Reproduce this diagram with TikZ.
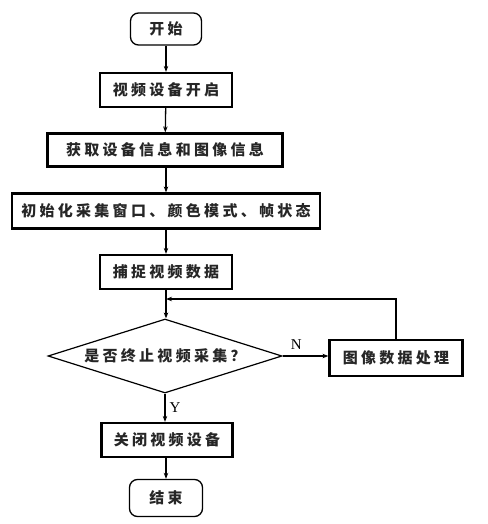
\documentclass[tikz,border=0pt]{standalone}
\usepackage{fontspec}
\newfontfamily\cjk[LetterSpace=22]{Noto Sans CJK SC}
\setmainfont{Liberation Serif}
\usetikzlibrary{shapes.geometric,arrows.meta}
\begin{document}
\begin{tikzpicture}[x=1pt,y=-1pt,
  base/.style={font=\fontsize{15}{17}\cjk\bfseries, text=black!85, inner sep=0pt},
  proc/.style={base, draw, line width=2.2pt, minimum height=34pt},
  term/.style={base, draw, line width=1.3pt, rounded corners=8pt, minimum height=32pt},
  dec/.style={base, draw, line width=1.2pt, diamond, aspect=3.2, inner sep=0pt, minimum width=234pt, minimum height=74pt},
  arr/.style={line width=1.3pt, -{Stealth[length=6pt,width=4.5pt]}},
  lbl/.style={font=\fontsize{15}{17}\selectfont, inner sep=0pt}]
\useasboundingbox (0,0) rectangle (487,524);
\node[term, minimum width=71pt] (start) at (166,29) {开始};
\node[proc, minimum width=132pt] (b1) at (166,90) {视频设备开启};
\node[proc, minimum width=235pt, minimum height=33pt] (b2) at (165,150) {获取设备信息和图像信息};
\node[proc, minimum width=308pt, minimum height=35pt] (b3) at (166,211) {初始化采集窗口、颜色模式、帧状态};
\node[proc, minimum width=132pt] (b4) at (166,272) {捕捉视频数据};
\coordinate (j) at (166,299);
\node[dec] (d) at (165,356) {是否终止视频采集？};
\node[proc, minimum width=133pt, minimum height=36pt] (p) at (396,358) {图像数据处理};
\node[proc, minimum width=131pt] (b5) at (167,440) {关闭视频设备};
\node[term, minimum width=73pt, minimum height=37pt] (end) at (166,498) {结束};
\draw[arr] (start) -- (b1);
\draw[arr] (b1) -- (b2);
\draw[arr] (b2.south -| b1) -- (b3.north -| b1);
\draw[arr] (b3.south -| b1) -- (b4);
\draw[arr] (b4) -- (d.north -| b4);
\draw[arr] (d.east) -- (p.west |- d.east) node[lbl, pos=0.3, above=6pt] {N};
\draw[arr] (p.north) |- (j);
\draw[arr] (d.south) -- (b5.north -| d.south) node[lbl, pos=0.5, right=4pt] {Y};
\draw[arr] (b5.south -| end) -- (end);
\end{tikzpicture}
\end{document}
